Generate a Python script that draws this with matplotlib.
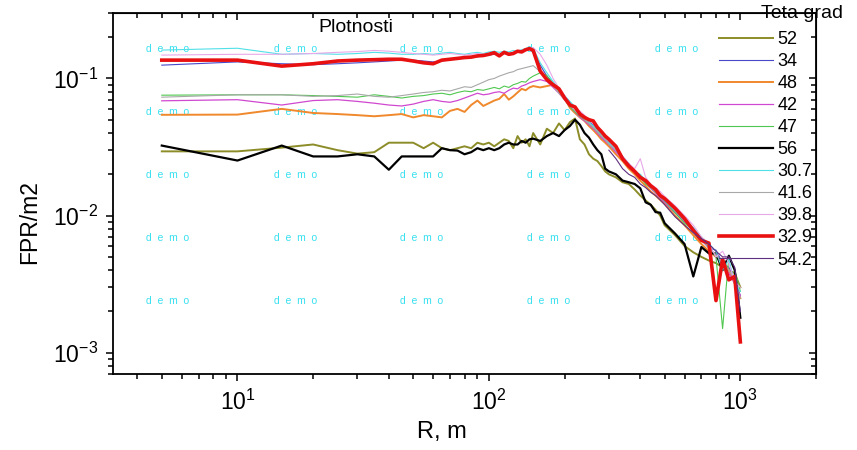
import numpy as np
import matplotlib
matplotlib.use("Agg")
import matplotlib.pyplot as plt

plt.rcParams['font.family'] = ['Liberation Sans', 'DejaVu Sans']
plt.rcParams['mathtext.fontset'] = 'custom'
plt.rcParams['mathtext.rm'] = 'Liberation Sans'
plt.rcParams['mathtext.it'] = 'Liberation Sans'
plt.rcParams['axes.unicode_minus'] = False

# distance, m
R = [5, 10, 15, 20, 25, 30, 35, 40, 45, 50, 55, 60, 65, 70, 75, 80, 85, 90, 95, 100,
     105, 110, 115, 120, 125, 130, 135, 140, 145, 150,
     160, 170, 180, 190, 200, 210, 220, 230, 240, 250, 260, 270, 280, 290, 300,
     320, 340, 360, 380, 400, 420, 440, 460, 480, 500,
     550, 600, 650, 700, 750, 800, 850, 900, 950, 1000]

nan = np.nan

t52 = [.0294, .0294, .0313, .033, .030, .0283, .029, .034, .034, .034,
       .031, .034, .031, .030, .031, .032, .031, .034, .033, .034,
       .032, .034, .036, .035, .031, .038, .034, .036, .032, .040,
       .033, .043, .040, .047, .042, .048, .051, .036, .033, .028, .026, .025, .023, .021, .020,
       .019, .0175, .017, .0155, .014, .0129, .012, .011, .010, .0085,
       .0072, .0060, .0054, .0050, .0047, .0045, .0042, .0040, .0038, .0030]

t34 = [.125, .132, .128, .126, .128, .130, .132, .134, .136, .136,
       .134, .132, .134, .137, .139, .141, .143, .144, .146, .148,
       .150, .149, .152, .151, .154, .156, .158, .160, .163, .160,
       .125, .104, .092, .082, .074, .067, .060, .057, .053, .048, .046, .043, .040, .038, .035,
       .031, .027, .024, .021, .019, .0175, .016, .015, .0138, .0125,
       .0105, .0090, .0080, .0068, .0058, .0056, .0045, .0042, .0035, .0026]

t48 = [.0543, .0545, .060, .056, .055, .054, .053, .054, .055, .052,
       .054, .053, .052, .058, .060, .057, .064, .069, .063, .066,
       .069, .071, .077, .070, .074, .079, .084, .082, .086, .088,
       .086, .088, .090, .082, .072, .061, .056, .052, .049, .045, .042, .039, .036, .034, .032,
       .028, .025, .022, .020, .018, .0165, .015, .014, .013, .0122,
       .0100, .0085, .0072, .0062, .0055, .0050, .0046, .0040, .0032, .0025]

t42 = [.0687, .070, .064, .069, .070, .068, .066, .064, .063, .065,
       .068, .070, .068, .067, .069, .072, .075, .078, .076, .077,
       .079, .080, .078, .082, .085, .084, .088, .090, .093, .095,
       .098, .095, .086, .078, .070, .063, .057, .052, .049, .046, .043, .040, .037, .035, .033,
       .029, .026, .023, .021, .019, .0172, .0158, .0146, .0135, .0125,
       .0105, .0090, .0078, .0066, .0058, .0050, .0044, .0038, .0032, .0026]

t47 = [.0755, .076, .076, .075, .074, .073, .076, .074, .072, .074,
       .075, .077, .078, .076, .079, .081, .080, .083, .082, .084,
       .086, .084, .088, .086, .090, .092, .095, .094, .100, .104,
       .110, .105, .092, .080, .070, .062, .057, .053, .050, .047, .044, .041, .038, .036, .034,
       .030, .026, .023, .021, .019, .017, .016, .0148, .0138, .0128,
       .0105, .0088, .0078, .0068, .0058, .0050, .0015, .0050, .0040, .0028]

t56 = [.0324, .0252, .0324, .027, .027, .028, .027, .0216, .027, .027,
       .027, .027, .031, .030, .0298, .028, .029, .031, .030, .031,
       .030, .031, .033, .034, .033, .033, .035, .034, .036, .0364,
       .035, .038, .040, .038, .042, .045, .050, .046, .040, .037, .033, .030, .028, .022, .021,
       .020, .018, .0175, .017, .0158, .0125, .012, .0106, .0105, .0088,
       .0074, .0062, .0036, .0059, .0053, .0053, .0040, .0051, .0040, .0018]

t30_7 = [.161, .166, .150, .152, .150, .152, .155, .153, .150, .150,
         .152, .150, .153, .155, .152, .150, .153, .155, .152, .156,
         .158, .155, .158, .156, .160, .158, .162, .165, .168, .166,
         .130, .110, .095, .083, .075, .068, .062, .056, .052, .048, .045, .042, .039, .036, .034,
         .030, .026, .024, .021, .020, .018, .016, .015, .014, .0128,
         .0108, .0092, .0082, .0070, .0062, .0055, .0040, .0048, .0032, .0028]

t41_6 = [.073, .076, .076, .074, .075, .077, .074, .073, .075, .077,
         .079, .080, .082, .081, .084, .087, .086, .090, .094, .098,
         .100, .104, .107, .110, .112, .116, .118, .120, .122, .124,
         .112, .098, .088, .078, .070, .063, .058, .054, .050, .047, .044, .041, .038, .036, .033,
         .030, .026, .023, .021, .019, .0175, .016, .015, .014, .013,
         .011, .0093, .0080, .0068, .0058, .0052, .0045, .0040, .0034, .0025]

t39_8 = [.148, .150, .150, .152, .155, .157, .160, .158, .155, .152,
         .150, .148, .150, .152, .150, .148, .150, .152, .150, .152,
         .155, .150, .156, .152, .155, .158, .160, .162, .165, .168,
         .150, .125, .100, .085, .075, .066, .060, .058, .054, .050, .047, .044, .040, .037, .035,
         .031, .027, .024, .022, .026, .019, .017, .016, .015, .0138,
         .0118, .0100, .0085, .0070, .0062, .0050, .0055, .0045, .0033, .0030]

t32_9 = [.136, .136, .123, .128, .134, .136, .137, .138, .138, .134,
         .130, .128, .136, .138, .140, .142, .143, .146, .147, .150,
         .154, .146, .155, .150, .152, .158, .156, .162, .165, .160,
         .113, .098, .090, .084, .072, .064, .062, .055, .052, .050, .049, .044, .041, .038, .036,
         .032, .026, .023, .021, .019, .018, .0165, .0155, .014, .0133,
         .0113, .0095, .0078, .0066, .0063, .0024, .0048, .0034, .0036, .0012]

t54_2 = [nan] * 44 + [.030,
         .026, .022, .020, .019, .017, .016, .0148, .014, .013, .012,
         .0098, .0085, .0075, .0068, .0062, .0055, .0050, .0050, .0042, .0020]

series = [
    ("52", t52, "#8c8c28", 1.4),
    ("34", t34, "#4848c8", 0.8),
    ("48", t48, "#f0882c", 1.4),
    ("42", t42, "#d048d0", 0.9),
    ("47", t47, "#50c850", 0.8),
    ("56", t56, "black", 1.6),
    ("30.7", t30_7, "#50e0e8", 0.8),
    ("41.6", t41_6, "#a8a8a8", 0.8),
    ("39.8", t39_8, "#e8a8e8", 0.8),
    ("32.9", t32_9, "#e81010", 2.6),
    ("54.2", t54_2, "#603080", 0.8),
]

fig = plt.figure(figsize=(8.57, 4.5), dpi=100)
ax = fig.add_axes([0.1319, 0.1689, 0.8203, 0.8022])

lines = []
for name, vals, col, lw in series:
    ln, = ax.plot(R, vals, color=col, lw=lw, label=name)
    lines.append(ln)

ax.set_xscale("log")
ax.set_yscale("log")
ax.set_xlim(3.2, 2000)
ax.set_ylim(7e-4, 0.3)

for sp in ax.spines.values():
    sp.set_linewidth(1.3)

ax.tick_params(which="both", direction="out", top=False, right=False,
               labelsize=16.5, width=1.1)
ax.tick_params(which="major", length=5)
ax.tick_params(which="minor", length=3.6)
ax.tick_params(axis="x", pad=6)
ax.tick_params(axis="y", pad=6)

sx = ax.secondary_xaxis("top")
sx.tick_params(which="both", direction="in", labeltop=False, width=1.1)
sx.tick_params(which="major", length=5)
sx.tick_params(which="minor", length=3.6)
sy = ax.secondary_yaxis("right")
sy.tick_params(which="both", direction="in", labelright=False, width=1.1)
sy.tick_params(which="major", length=5)
sy.tick_params(which="minor", length=3.6)

ax.set_xlabel("R, m", fontsize=17)
ax.set_ylabel("FPR/m2", fontsize=16.5)
ax.xaxis.set_label_coords(0.468, -0.13)
ax.yaxis.set_label_coords(-0.102, 0.42)

ax.text(0.2916, 0.961, "Plotnosti", transform=ax.transAxes, fontsize=14,
        ha="left", va="center")

# watermark grid
for xf in [0.078, 0.259, 0.439, 0.620, 0.801]:
    for yf in [0.900, 0.726, 0.551, 0.377, 0.202]:
        ax.text(xf, yf, "d  e  m  o", transform=ax.transAxes, fontsize=7.5,
                color="#38e0f0", ha="center", va="center", zorder=0.5)

fig.text(761 / 857, 1 - 14 / 450, "Teta grad", fontsize=14, ha="left", va="center")
fig.legend(handles=lines, loc="upper left", bbox_to_anchor=(719 / 857, 1 - 31 / 450),
           frameon=False, fontsize=13, handlelength=3.0, handletextpad=0.25,
           labelspacing=0.28, borderpad=0, borderaxespad=0)

fig.savefig("out.png", dpi=100)
